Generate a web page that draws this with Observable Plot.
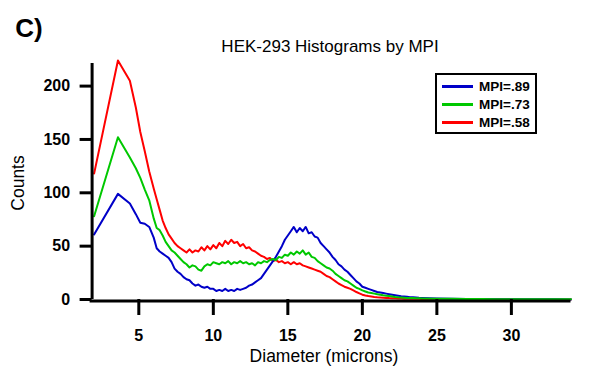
<!DOCTYPE html>
<html><head><meta charset="utf-8">
<script src="https://cdn.jsdelivr.net/npm/d3@7"></script>
<script src="https://cdn.jsdelivr.net/npm/@observablehq/plot@0.6"></script>
<style>
body{margin:0;background:#fff;}
#wrap{position:relative;width:600px;height:379px;font-family:"Liberation Sans",Arial,sans-serif;color:#000;overflow:hidden;}
#wrap svg{position:absolute;left:0;top:0;}
.lbl{position:absolute;white-space:nowrap;line-height:1;transform:translate(-50%,-50%);}
#legend{position:absolute;left:435px;top:73px;width:98px;height:57px;border:2px solid #000;background:#fff;}
.entry{position:absolute;left:0;height:16px;}
.entry .sw{position:absolute;left:5px;top:6px;width:31px;height:3px;}
.entry .tx{position:absolute;left:42px;top:0;font-weight:bold;font-size:13.5px;line-height:16px;}
</style></head><body>
<div id="wrap"></div>
<script>
// Diameter bins (microns)
const diameter = [2.0, 3.6, 4.4, 4.8, 5.1, 5.4, 5.7,
  6.0, 6.2, 6.4, 6.6, 6.8, 7.0, 7.2, 7.4, 7.6, 7.8,
  8.0, 8.2, 8.4, 8.6, 8.8, 9.0, 9.2, 9.4, 9.6, 9.8,
  10.0, 10.2, 10.4, 10.6, 10.8, 11.0, 11.2, 11.4, 11.6, 11.8,
  12.0, 12.2, 12.4, 12.6, 12.8, 13.0, 13.2, 13.4, 13.6, 13.8,
  14.0, 14.2, 14.4, 14.6, 14.8, 15.0, 15.2, 15.4, 15.6, 15.8,
  16.0, 16.2, 16.4, 16.6, 16.8, 17.0, 17.2, 17.4, 17.6, 17.8,
  18.0, 18.2, 18.4, 18.6, 18.8, 19.0, 19.2, 19.4, 19.6, 19.8,
  20.0, 20.2, 20.4, 20.6, 20.8, 21.0, 21.2, 21.4, 21.6, 21.8,
  22.0, 22.2, 22.4, 22.6, 22.8, 23.0, 23.2, 23.4, 23.6, 23.8,
  24.0,
  25, 26, 27, 28, 29, 30, 31, 32, 33, 34];

const countsMPI89 = [61, 99, 90, 80, 72, 71, 68,
  58, 48, 45, 43, 41, 39, 35, 29, 26, 24,
  21, 19, 18, 15, 13, 14, 12, 11, 12, 10,
  10, 8, 9, 8, 10, 8, 9, 8, 10, 9,
  10, 11, 13, 14, 16, 18, 20, 24, 28, 32,
  36, 40, 45, 50, 56, 60, 64, 68, 63, 67,
  64, 68, 62, 63, 59, 58, 53, 50, 47, 44,
  40, 37, 33, 31, 28, 26, 23, 20, 17, 15,
  12, 11, 10, 9, 8, 7, 6.5, 6, 5.5, 5,
  4.5, 4, 3.5, 3, 2.8, 2.5, 2.2, 2, 1.8, 1.6,
  1.5,
  1, 0.7, 0.5, 0.4, 0.3, 0.3, 0.2, 0.2, 0.2, 0.1];

const countsMPI73 = [78, 152, 133, 123, 114, 103, 93,
  76, 67, 65, 60, 54, 50, 46, 44, 41, 38,
  35, 33, 30, 32, 31, 28, 27, 31, 33, 32,
  35, 34, 33, 35, 34, 36, 33, 35, 34, 36,
  34, 35, 33, 34, 32, 35, 34, 36, 35, 37,
  38, 37, 40, 39, 42, 41, 44, 42, 45, 43,
  46, 42, 44, 40, 39, 36, 34, 32, 30, 29,
  27, 24, 22, 20, 18, 17, 15, 13, 11, 10,
  8.5, 7.5, 6.5, 6, 5.5, 5, 4.5, 4, 3.6, 3.2,
  2.8, 2.4, 2.1, 1.9, 1.7, 1.5, 1.4, 1.3, 1.2, 1.1,
  1.0,
  0.8, 0.6, 0.5, 0.4, 0.3, 0.3, 0.3, 0.2, 0.2, 0.2];

const countsMPI58 = [118, 224, 205, 180, 157, 139, 120,
  104, 94, 84, 74, 67, 61, 57, 53, 50, 48,
  46, 44, 47, 44, 46, 45, 49, 46, 50, 47,
  51, 48, 53, 50, 55, 52, 56, 53, 54, 50,
  52, 48, 49, 46, 45, 43, 41, 40, 38, 39,
  36, 37, 35, 36, 34, 35, 33, 35, 33, 34,
  32, 31, 30, 29, 28, 27, 26, 24, 22, 21,
  19, 17, 15, 13.5, 12, 11, 10, 8.5, 7, 5.8,
  4.5, 3.8, 3.2, 2.8, 2.4, 2.1, 1.9, 1.7, 1.5, 1.3,
  1.2, 1.1, 1.0, 0.9, 0.8, 0.8, 0.7, 0.7, 0.6, 0.6,
  0.5,
  0.4, 0.3, 0.3, 0.2, 0.2, 0.2, 0.1, 0.1, 0.1, 0.1];

const seriesNames = ["MPI=.89", "MPI=.73", "MPI=.58"];
const seriesColors = ["#0000c8", "#00c800", "#ff0000"];
const xTicks = [5, 10, 15, 20, 25, 30];
const yTicks = [0, 50, 100, 150, 200];
const titleText = "HEK-293 Histograms by MPI";
const xLabel = "Diameter (microns)";
const yLabel = "Counts";
const panelLabel = "C)";

const seriesValues = [countsMPI89, countsMPI73, countsMPI58];
const rows = [];
seriesValues.forEach((vals, s) => vals.forEach((v, i) => rows.push({x: diameter[i], y: v, s: seriesNames[s]})));
const drawOrder = ["MPI=.58", "MPI=.89", "MPI=.73"];

const chart = Plot.plot({
  width: 600, height: 379,
  marginLeft: 93.6, marginRight: 29.5, marginTop: 60, marginBottom: 80,
  x: {domain: [2, 34]},
  y: {domain: [0, 224]},
  color: {domain: seriesNames, range: seriesColors},
  style: {fontFamily: "Liberation Sans, Arial, sans-serif", background: "transparent", color: "#000"},
  marks: [
    Plot.axisY({ticks: yTicks, tickSize: 0, tickPadding: 24, fontSize: 16, fontWeight: "bold", label: null, tickFormat: d => String(d)}),
    Plot.axisX({ticks: xTicks, tickSize: 0, tickPadding: 30, fontSize: 16, fontWeight: "bold", label: null, tickFormat: d => String(d)}),
    ...drawOrder.map(name => Plot.line(rows.filter(r => r.s === name), {x: "x", y: "y", stroke: "s", strokeWidth: 2, curve: "linear"})),
    Plot.ruleY(yTicks, {y: d => d, x1: 2, x2: 2, dx: -2, insetLeft: -12, stroke: "#000", strokeWidth: 3}),
    Plot.ruleX(xTicks, {x: d => d, y1: 0, y2: 0, insetBottom: -16, stroke: "#000", strokeWidth: 3}),
    Plot.ruleX([2], {y1: 0, y2: 224, dx: -2, strokeWidth: 3, insetBottom: -3, stroke: "#000"}),
    Plot.ruleY([0], {x1: 2, x2: 34, dy: 1.5, strokeWidth: 3, insetLeft: -4, stroke: "#000"})
  ]
});

const wrap = document.getElementById("wrap");
wrap.appendChild(chart);

function addLabel(text, x, y, css) {
  const d = document.createElement("div");
  d.className = "lbl";
  d.textContent = text;
  d.style.left = x + "px";
  d.style.top = y + "px";
  Object.assign(d.style, css || {});
  wrap.appendChild(d);
  return d;
}
addLabel(panelLabel, 29, 28, {fontSize: "26px", fontWeight: "bold"});
addLabel(titleText, 330, 46, {fontSize: "17px"});
addLabel(xLabel, 324, 357, {fontSize: "17.5px"});
addLabel(yLabel, 19, 183, {fontSize: "17.5px", transform: "translate(-50%,-50%) rotate(-90deg)"});

const legend = document.createElement("div");
legend.id = "legend";
seriesNames.forEach((n, i) => {
  const e = document.createElement("div");
  e.className = "entry";
  e.style.top = (4 + i * 18) + "px";
  e.innerHTML = `<div class="sw" style="background:${seriesColors[i]}"></div><div class="tx"></div>`;
  e.querySelector(".tx").textContent = n;
  legend.appendChild(e);
});
wrap.appendChild(legend);
</script>
</body></html>
